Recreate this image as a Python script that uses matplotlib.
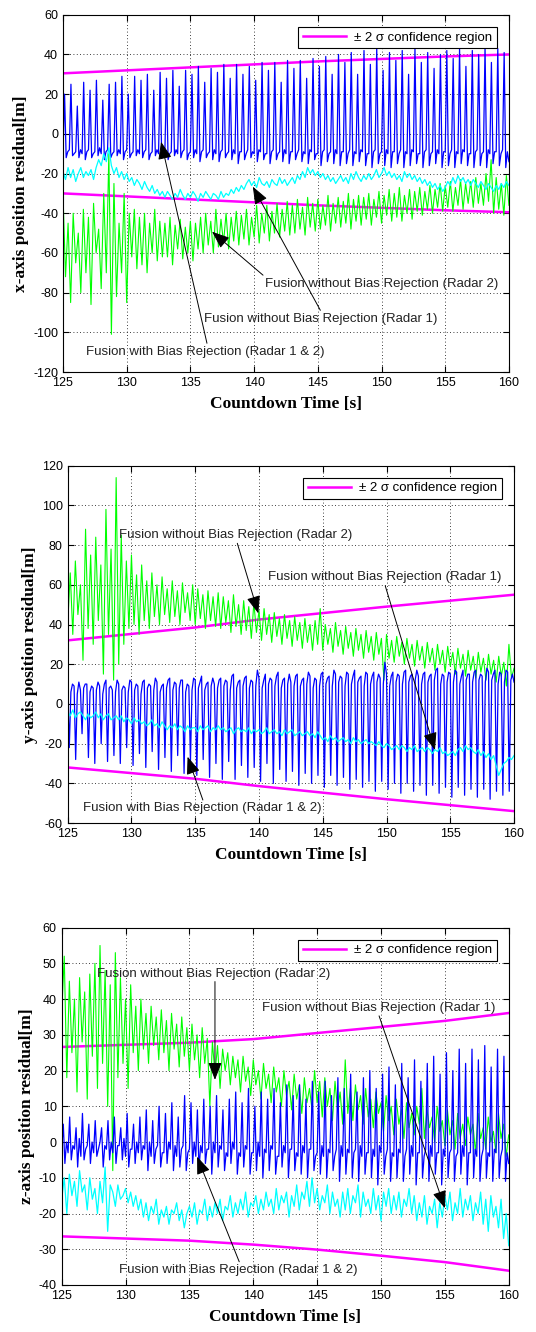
import numpy as np
import matplotlib
matplotlib.use("Agg")
import matplotlib.pyplot as plt
from matplotlib.lines import Line2D

# ---- data (time axis 125 .. 160 s) ----
t_start, t_end = 125, 160

# x-axis panel
x_blue = [
    -10, 20, -12, -9, -8, 25, -11, -10, -9, 14, -12, -8, -10, 26, -13, -9,
    -8, 22, -12, -10, -9, 27, -11, -7, -10, 17, -13, -9, -8, 25, -12, -10,
    -9, 26, -11, -8, -10, 29, -13, -9, -8, 20, -12, -10, -9, 29, -11, -8,
    -10, 27, -12, -9, -8, 30, -13, -10, -9, 22, -11, -8, -10, 31, -12, -9,
    -8, 28, -13, -10, -9, 32, -11, -8, -10, 24, -12, -9, -8, 32, -13, -10,
    -9, 30, -12, -8, -10, 34, -14, -9, -8, 26, -12, -10, -9, 33, -13, -8,
    -10, 31, -14, -9, -8, 35, -12, -10, -9, 28, -13, -8, -10, 35, -15, -9,
    -9, 30, -13, -10, -8, 34, -12, -9, -10, 27, -14, -8, -9, 36, -13, -10,
    -10, 32, -15, -9, -8, 36, -13, -10, -9, 26, -14, -8, -10, 37, -15, -9,
    -9, 33, -13, -10, -8, 37, -14, -9, -10, 28, -15, -8, -9, 38, -13, -10,
    -10, 34, -16, -9, -8, 39, -14, -10, -9, 30, -15, -8, -10, 40, -16, -9,
    -9, 36, -15, -10, -8, 41, -16, -9, -10, 30, -14, -8, -9, 42, -16, -10,
    -10, 35, -17, -9, -8, 43, -15, -10, -9, 32, -16, -8, -10, 41, -17, -9,
    -9, 37, -15, -10, -8, 42, -17, -9, -10, 30, -16, -8, -9, 43, -15, -10,
    -10, 36, -17, -9, -8, 41, -16, -10, -9, 33, -15, -8, -10, 40, -17, -9,
    -9, 42, -16, -10, -8, 38, -17, -9, -10, 43, -15, -8, -9, 34, -16, -10,
    -10, 42, -17, -9, -8, 40, -16, -10, -9, 44, -17, -8, -10, 36, -15, -9,
    -9, 43, -16, -10, -8, 41, -17, -9, -14,
]
x_green = [
    -30, -72, -45, -85, -40, -65, -50, -80, -38, -70,
    -42, -86, -35, -60, -48, -78, -30, -70, -10, -101,
    -25, -82, -45, -70, -30, -85, -40, -62, -38, -68,
    -42, -66, -40, -70, -45, -60, -38, -64, -44, -62,
    -45, -62, -42, -66, -46, -58, -43, -63, -47, -60,
    -44, -64, -45, -58, -42, -60, -40, -56, -44, -60,
    -38, -57, -43, -55, -40, -58, -42, -54, -39, -56,
    -41, -53, -38, -56, -42, -52, -36, -55, -40, -50,
    -36, -54, -39, -50, -35, -52, -38, -49, -34, -51,
    -36, -50, -33, -48, -37, -51, -32, -47, -35, -49,
    -33, -48, -36, -46, -31, -49, -35, -45, -32, -47,
    -34, -45, -30, -48, -33, -44, -31, -46, -32, -43,
    -30, -46, -33, -42, -29, -45, -31, -41, -28, -44,
    -30, -42, -27, -44, -31, -40, -28, -43, -29, -39,
    -27, -41, -29, -38, -26, -40, -28, -37, -25, -39,
    -26, -37, -24, -39, -27, -36, -23, -38, -25, -35,
    -24, -37, -22, -35, -25, -36, -20, -34, -13, -40,
    -22, -38, -25, -41, -21, -36,
]
x_cyan = [
    -19, -23, -17, -22, -18, -24, -20, -17, -22, -19,
    -21, -18, -23, -17, -13, -16, -10, -14, -7, -16,
    -20, -17, -22, -19, -23, -20, -24, -22, -26, -23,
    -25, -28, -24, -27, -29, -26, -30, -28, -31, -29,
    -32, -29, -31, -33, -30, -32, -28, -31, -33, -30,
    -32, -29, -31, -34, -30, -32, -29, -31, -33, -30,
    -31, -33, -29, -32, -30, -31, -28, -30, -27, -29,
    -26, -28, -25, -23, -26, -24, -27, -22, -25, -26,
    -24, -27, -23, -25, -26, -22, -25, -23, -26, -24,
    -22, -25, -21, -23, -19, -22, -17, -20, -18, -21,
    -19, -22, -20, -23, -21, -24, -22, -25, -23, -21,
    -24, -22, -25, -20, -23, -19, -22, -24, -21, -23,
    -20, -23, -21, -18, -22, -20, -17, -21, -19, -22,
    -20, -23, -21, -24, -19, -22, -20, -23, -21, -24,
    -22, -25, -23, -26, -24, -27, -25, -28, -26, -29,
    -27, -24, -26, -22, -25, -21, -24, -22, -25, -23,
    -26, -23, -25, -27, -24, -26, -28, -25, -27, -29,
    -26, -28, -25, -27, -24, -26,
]
x_sig_t = [125, 135, 145, 155, 160]
x_sig_up = [30.5, 33.5, 36.5, 39.0, 40.0]
x_sig_lo = [-30.0, -33.0, -36.0, -38.5, -39.5]

# y-axis panel
y_blue = [
    8, -22, 6, 10, 9, -28, 5, 11, 7, -15, 8, 10, 10, -27, 6, 9,
    8, -30, 7, 11, 9, -20, 5, 10, 12, -29, 8, 9, 7, -26, 6, 12,
    10, -30, 7, 9, 8, -22, 6, 12, 11, -31, 7, 10, 9, -25, 5, 11,
    12, -32, 8, 10, 9, -24, 7, 13, 11, -33, 6, 9, 10, -27, 8, 12,
    13, -34, 7, 11, 10, -26, 8, 12, 12, -35, 6, 10, 9, -29, 7, 13,
    12, -36, 8, 11, 14, -28, 7, 10, 11, -37, 9, 13, 10, -30, 8, 12,
    13, -38, 9, 12, 11, -29, 7, 14, 15, -38, 8, 11, 12, -31, 9, 13,
    14, -37, 8, 12, 11, -32, 9, 17, 13, -39, 8, 12, 15, -30, 10, 13,
    12, -40, 9, 14, 16, -33, 8, 12, 13, -39, 10, 15, 11, -34, 9, 14,
    15, -41, 9, 12, 13, -35, 10, 16, 14, -40, 8, 13, 12, -36, 9, 15,
    16, -42, 10, 13, 14, -36, 9, 17, 15, -41, 11, 14, 13, -37, 9, 16,
    15, -43, 10, 14, 17, -38, 11, 13, 14, -42, 9, 16, 15, -39, 10, 14,
    16, -44, 11, 15, 13, -39, 10, 21, 15, -43, 9, 14, 16, -40, 11, 15,
    14, -45, 10, 16, 17, -40, 11, 14, 15, -44, 12, 17, 14, -41, 10, 15,
    16, -46, 11, 14, 15, -41, 12, 17, 18, -45, 10, 15, 14, -42, 11, 16,
    15, -47, 11, 17, 16, -42, 10, 14, 17, -46, 12, 15, 15, -43, 11, 16,
    17, -47, 12, 15, 14, -43, 11, 18, 16, -48, 12, 15, 17, -44, 10, 16,
    15, -46, 11, 17, 16, -44, 12, 15, 11,
]
y_green = [
    40, 66, 35, 72, 45, 60, 22, 88, 38, 75,
    30, 84, 42, 70, 15, 98, 35, 78, 12, 114,
    20, 85, 30, 72, 38, 75, 40, 65, 35, 70,
    42, 62, 38, 66, 44, 60, 40, 64, 45, 58,
    41, 62, 44, 57, 40, 61, 46, 56, 42, 60,
    40, 58, 43, 55, 38, 57, 42, 54, 39, 56,
    38, 54, 41, 52, 36, 55, 39, 50, 35, 52,
    37, 49, 33, 51, 36, 47, 32, 48, 35, 45,
    31, 46, 34, 43, 30, 45, 33, 42, 29, 44,
    32, 41, 28, 43, 31, 40, 27, 42, 30, 48,
    27, 40, 30, 38, 26, 41, 29, 37, 25, 39,
    28, 36, 24, 38, 27, 35, 23, 37, 26, 34,
    22, 36, 25, 33, 12, 35, 23, 32, 21, 34,
    24, 31, 20, 33, 23, 30, 19, 32, 22, 29,
    18, 31, 21, 28, 17, 30, 20, 27, 16, 29,
    19, 26, 15, 28, 18, 25, 14, 27, 17, 24,
    13, 26, 16, 23, 12, 25, 15, 22, 11, 24,
    14, 21, 9, 30, 13, 18,
]
y_cyan = [
    -4, -6, -3, -7, -5, -4, -6, -8, -5, -7,
    -6, -4, -7, -5, -8, -6, -5, -8, -7, -6,
    -8, -6, -9, -7, -8, -10, -7, -9, -8, -10,
    -9, -11, -10, -8, -11, -10, -12, -9, -11, -13,
    -11, -12, -10, -13, -11, -12, -14, -11, -13, -12,
    -12, -14, -11, -13, -12, -11, -14, -12, -13, -11,
    -13, -12, -14, -13, -12, -15, -13, -12, -14, -13,
    -14, -12, -15, -13, -14, -13, -15, -14, -12, -15,
    -14, -13, -15, -14, -16, -13, -15, -14, -13, -16,
    -15, -14, -16, -15, -14, -16, -15, -17, -14, -16,
    -18, -17, -19, -16, -18, -17, -19, -18, -17, -19,
    -18, -20, -17, -19, -18, -20, -19, -18, -20, -19,
    -20, -21, -19, -21, -22, -20, -21, -23, -22, -21,
    -23, -21, -22, -24, -22, -23, -21, -24, -23, -22,
    -24, -22, -23, -25, -23, -24, -22, -25, -24, -26,
    -25, -24, -26, -23, -22, -24, -21, -23, -22, -24,
    -25, -23, -26, -24, -27, -25, -28, -26, -31, -36,
    -33, -30, -29, -27, -28, -26,
]
y_sig_t = [125, 135, 140, 150, 160]
y_sig_up = [32.0, 38.5, 42.5, 49.0, 55.0]
y_sig_lo = [-32.0, -37.7, -41.4, -48.0, -54.0]

# z-axis panel
z_blue = [
    -2, 5, -6, 0, -3, 7, -5, -1, -2, 4, -7, 1, -4, 8, -5, -2,
    -1, 5, -6, 0, -3, 6, -4, -2, 0, 4, -7, -1, -2, 6, -5, 0,
    -3, 7, -6, -1, -1, 4, -5, 1, -4, 8, -7, -2, -2, 5, -6, 0,
    -3, 7, -5, -1, -2, 9, -8, 0, -4, 6, -6, -2, -1, 10, -7, -3,
    -3, 8, -6, 0, -2, 11, -8, -1, -4, 7, -7, -2, -1, 13, -8, -3,
    -2, 11, -6, 0, -4, 9, -8, -1, -3, 12, -6, -2, -2, 10, -9, 0,
    -3, 13, -7, -1, -2, 9, -8, -3, -4, 12, -6, 0, -2, 14, -9, -3,
    -4, 11, -7, -1, -2, 15, -9, -3, -3, 10, -8, 0, -4, 14, -10, -2,
    -3, 12, -8, -1, -2, 15, -9, -4, -4, 11, -7, -1, -3, 16, -10, -2,
    -2, 13, -8, -3, -4, 16, -9, -1, -3, 12, -10, -2, -2, 17, -8, -4,
    -3, 14, -9, -1, -4, 17, -10, -2, -3, 13, -8, -4, -2, 18, -11, -1,
    -4, 15, -9, -2, -3, 19, -10, -3, -2, 14, -11, -1, -4, 18, -9, -3,
    -3, 20, -10, -2, -4, 15, -12, -1, -3, 19, -9, -4, -2, 21, -11, -3,
    -4, 16, -10, -2, -3, 22, -11, -4, -2, 18, -9, -1, -4, 23, -12, -3,
    -3, 17, -10, -4, -2, 22, -11, -1, -4, 24, -9, -3, -3, 19, -12, -2,
    -4, 25, -10, -3, -2, 20, -11, -4, -3, 26, -9, -1, -4, 22, -12, -3,
    -3, 26, -10, -2, -4, 23, -11, -4, -2, 27, -10, -3, -4, 21, -11, -2,
    -3, 26, -10, -4, -2, 24, -11, -3, -6,
]
z_green = [
    36, 52, 18, 45, 25, 40, 14, 46, 28, 42,
    12, 47, 24, 50, 15, 55, 22, 48, 10, 44,
    -8, 53, 18, 46, 22, 40, 15, 44, 25, 38,
    20, 40, 26, 36, 22, 38, 27, 35, 23, 37,
    25, 34, 20, 36, 26, 33, 21, 35, 24, 32,
    20, 33, 23, 30, 18, 32, 22, 29, 10, 28,
    19, 27, 15, 26, 20, 25, 16, 24, 18, 23,
    14, 24, 17, 21, 13, 23, 16, 20, 12, 22,
    15, 19, 11, 21, 14, 18, 10, 20, 13, 17,
    9, 19, 12, 16, 8, 18, 11, 15, 9, 20,
    11, 17, 7, 18, 10, 15, 6, 17, 9, 14,
    5, 23, 8, 15, 6, 16, 9, 13, 5, 15,
    7, 12, 4, 14, 8, 11, 3, 13, 6, 10,
    2, 12, 5, 9, 1, 11, 4, 8, 2, 10,
    5, 15, 1, 9, 4, 7, 0, 10, 3, 6,
    -1, 9, 2, 6, -2, 8, 1, 5, -1, 7,
    2, 5, -3, 8, 1, 4, -2, 7, 0, 3,
    -3, 8, 1, 5, -4, 2,
]
z_cyan = [
    -16, -10, -20, -9, -15, -11, -18, -8, -14, -12,
    -19, -10, -16, -13, -20, -11, -17, -7, -25, -12,
    -14, -18, -12, -16, -15, -13, -17, -14, -18, -15,
    -19, -16, -21, -17, -22, -18, -20, -16, -23, -19,
    -21, -18, -23, -19, -20, -17, -22, -19, -24, -20,
    -18, -21, -17, -23, -19, -20, -16, -22, -18, -21,
    -17, -20, -16, -22, -18, -19, -15, -21, -17, -20,
    -16, -19, -14, -21, -17, -18, -15, -20, -16, -19,
    -14, -18, -16, -20, -13, -19, -15, -17, -14, -21,
    -15, -18, -12, -19, -14, -16, -11, -18, -10, -17,
    -13, -19, -15, -17, -12, -20, -14, -18, -16, -21,
    -14, -19, -13, -20, -15, -17, -12, -21, -14, -18,
    -16, -20, -13, -19, -15, -22, -14, -18, -13, -20,
    -15, -19, -14, -21, -16, -18, -13, -20, -15, -22,
    -17, -21, -15, -23, -18, -20, -16, -24, -17, -21,
    -15, -19, -14, -22, -17, -20, -13, -21, -16, -19,
    -15, -22, -17, -20, -14, -23, -16, -25, -15, -21,
    -18, -24, -16, -27, -20, -29,
]
z_sig_t = [125, 135, 140, 145, 150, 155, 160]
z_sig_up = [26.6, 27.8, 28.8, 30.5, 32.2, 33.9, 36.1]
z_sig_lo = [-26.4, -27.6, -28.7, -30.1, -31.8, -33.6, -36.0]

lbl_r2 = 'Fusion without Bias Rejection (Radar 2)'
lbl_r1 = 'Fusion without Bias Rejection (Radar 1)'
lbl_rb = 'Fusion with Bias Rejection (Radar 1 & 2)'

# (label, text x, text y, arrow tail, arrow head)
x_notes = [(lbl_r2, 140.85, -75.7, (140.7, -71.2), (136.7, -49.3)),
           (lbl_r1, 136.1, -93.4, (145.2, -88.9), (139.9, -26.6)),
           (lbl_rb, 126.8, -110.1, (136.3, -105.5), (132.7, -4.0))]
y_notes = [(lbl_r2, 129.0, 85.1, (138.3, 80.9), (139.95, 45.6)),
           (lbl_r1, 140.7, 64.1, (149.9, 59.5), (153.8, -23.2)),
           (lbl_rb, 126.2, -52.3, (135.6, -48.4), (134.4, -26.6))]
z_notes = [(lbl_r2, 127.8, 47.0, (137.0, 44.9), (137.0, 17.4)),
           (lbl_r1, 140.7, 37.6, (149.85, 35.3), (155.0, -18.5)),
           (lbl_rb, 129.5, -35.8, (138.9, -33.5), (135.6, -4.1))]

plt.rcParams['font.family'] = ['Liberation Sans', 'DejaVu Sans']
plt.rcParams['axes.unicode_minus'] = False

fig = plt.figure(figsize=(5.36, 13.32), dpi=100)


def panel(rect, blue, green, cyan, sig_t, sig_up, sig_lo, ylim, ystep, ylabel, notes):
    ax = fig.add_axes(rect)
    ax.plot(sig_t, sig_up, color='#ff00ff', lw=1.8)
    ax.plot(sig_t, sig_lo, color='#ff00ff', lw=1.8)
    ax.plot(np.linspace(t_start, t_end, len(green)), green, color='#00ff00', lw=0.8)
    ax.plot(np.linspace(t_start, t_end, len(blue)), blue, color='#0000ff', lw=0.9)
    ax.plot(np.linspace(t_start, t_end, len(cyan)), cyan, color='#00ffff', lw=0.9)

    ax.set_xlim(t_start, t_end)
    ax.set_ylim(*ylim)
    ax.set_xticks(np.arange(t_start, t_end + 1, 5))
    ax.set_yticks(np.arange(ylim[0], ylim[1] + 1, ystep))
    ax.grid(True, color='k', ls=(0, (1, 3)), lw=0.6)
    ax.tick_params(direction='in', top=True, right=True, labelsize=9, length=4)
    for s in ax.spines.values():
        s.set_linewidth(0.8)
    ax.set_xlabel('Countdown Time [s]', family='Liberation Serif',
                  fontweight='bold', fontsize=12.5, labelpad=5)
    ax.set_ylabel(ylabel, family='Liberation Serif', fontweight='bold',
                  fontsize=12.5, labelpad=3)

    h = Line2D([], [], color='#ff00ff', lw=1.8)
    leg = ax.legend([h], ['± 2 σ confidence region'], loc='upper right',
                    bbox_to_anchor=(0.988, 0.985), fontsize=9.5, fancybox=False,
                    edgecolor='k', framealpha=1, handlelength=3.3,
                    borderpad=0.35, handletextpad=0.6)
    leg.get_frame().set_linewidth(0.8)

    for txt, tx, ty, tail, head in notes:
        ax.text(tx, ty, txt, fontsize=9.5, color='#222222', va='center', ha='left')
        ax.annotate('', xy=head, xytext=tail,
                    arrowprops=dict(arrowstyle='-|>,head_length=0.9,head_width=0.35',
                                    color='k', lw=0.7, shrinkA=0, shrinkB=0,
                                    mutation_scale=12))
    return ax


panel([0.1175, 0.7207, 0.832, 0.2682], x_blue, x_green, x_cyan,
      x_sig_t, x_sig_up, x_sig_lo, (-120, 60), 20, 'x-axis position residual[m]', x_notes)
panel([0.1263, 0.3821, 0.8327, 0.2683], y_blue, y_green, y_cyan,
      y_sig_t, y_sig_up, y_sig_lo, (-60, 120), 20, 'y-axis position residual[m]', y_notes)
panel([0.1151, 0.0353, 0.834, 0.2683], z_blue, z_green, z_cyan,
      z_sig_t, z_sig_up, z_sig_lo, (-40, 60), 10, 'z-axis position residual[m]', z_notes)

fig.savefig('out.png', dpi=100)
